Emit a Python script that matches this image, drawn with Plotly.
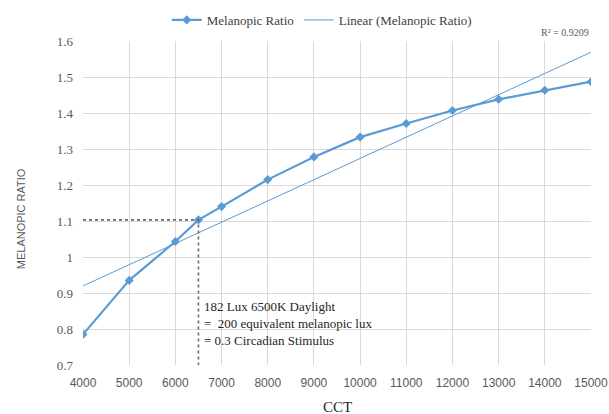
import numpy as np
import plotly.graph_objects as go

cct = [4000, 5000, 6000, 6500, 7000, 8000, 9000, 10000, 11000, 12000, 13000, 14000, 15000]
ratio = [0.785, 0.935, 1.043, 1.103, 1.140, 1.215, 1.278, 1.333, 1.371, 1.407, 1.438, 1.463, 1.487]
x_ticks = list(range(4000, 15001, 1000))
x_tick_text = [str(v) for v in x_ticks]
y_ticks = [0.7, 0.8, 0.9, 1.0, 1.1, 1.2, 1.3, 1.4, 1.5, 1.6]
y_tick_text = ["0.7", "0.8", "0.9", "1", "1.1", "1.2", "1.3", "1.4", "1.5", "1.6"]
marker_x = 6500
marker_y = 1.103
r2_text = "R² = 0.9209"
note_lines = ["182 Lux 6500K Daylight", "=&nbsp;&nbsp;200 equivalent melanopic lux", "= 0.3 Circadian Stimulus"]

# linear trendline from the data
coef = np.polyfit(cct, ratio, 1)
trend_x = [x_ticks[0], x_ticks[-1]]
trend_y = [float(np.polyval(coef, v)) for v in trend_x]

BLUE = "#5B9BD5"
GRID = "#D9D9D9"
SERIF = "Liberation Serif"
SANS = "Liberation Sans"

fig = go.Figure()
fig.add_trace(go.Scatter(
    x=cct, y=ratio, mode="lines+markers", name="Melanopic Ratio",
    line=dict(color=BLUE, width=2.2),
    marker=dict(symbol="diamond", size=7, color=BLUE),
))
fig.add_trace(go.Scatter(
    x=trend_x, y=trend_y, mode="lines", name="Linear (Melanopic Ratio)",
    line=dict(color=BLUE, width=1),
))
# dotted guides
fig.add_trace(go.Scatter(
    x=[x_ticks[0], marker_x, marker_x], y=[marker_y, marker_y, y_ticks[0]],
    mode="lines", showlegend=False, hoverinfo="skip",
    line=dict(color="#6b6b6b", width=1.6, dash="dot"),
))

fig.update_layout(
    width=609, height=414,
    margin=dict(l=83, r=18, t=41, b=49, autoexpand=False),
    paper_bgcolor="white", plot_bgcolor="white",
    showlegend=True,
    legend=dict(orientation="h", x=0.47, xanchor="center", y=1.065, yanchor="middle",
                font=dict(family=SERIF, size=13, color="#404040"),
                bgcolor="rgba(0,0,0,0)", itemwidth=30, tracegroupgap=0),
    xaxis=dict(range=[x_ticks[0], x_ticks[-1]], tickvals=x_ticks, ticktext=x_tick_text,
               showgrid=True, gridcolor=GRID, gridwidth=1, zeroline=False,
               showline=False, ticks="", ticklabelstandoff=9,
               tickfont=dict(family=SANS, size=12, color="#595959")),
    yaxis=dict(range=[y_ticks[0], y_ticks[-1]], tickvals=y_ticks, ticktext=y_tick_text,
               showgrid=True, gridcolor=GRID, gridwidth=1, zeroline=False,
               showline=False, ticks="", ticklabelstandoff=9,
               tickfont=dict(family=SERIF, size=13, color="#595959")),
)

annotations = [
    dict(text="CCT", xref="paper", yref="paper", x=0.5, y=-0.13, yanchor="middle",
         showarrow=False, font=dict(family=SERIF, size=15, color="#262626")),
    dict(text="MELANOPIC RATIO", xref="paper", yref="paper", x=-0.122, xanchor="center",
         y=0.45, yanchor="middle", textangle=-90, showarrow=False,
         font=dict(family=SANS, size=11, color="#595959")),
    dict(text=r2_text, xref="paper", yref="paper", x=1.0, xanchor="right",
         y=1.0, yanchor="bottom", yshift=1, showarrow=False,
         font=dict(family=SERIF, size=10, color="#595959")),
    dict(text="<br>".join(note_lines), xref="x", yref="y", x=marker_x, xanchor="left",
         xshift=4, y=0.815, yanchor="middle", align="left", showarrow=False,
         font=dict(family=SERIF, size=13, color="#262626")),
]
fig.update_layout(annotations=annotations)

fig.write_html("out.html")
